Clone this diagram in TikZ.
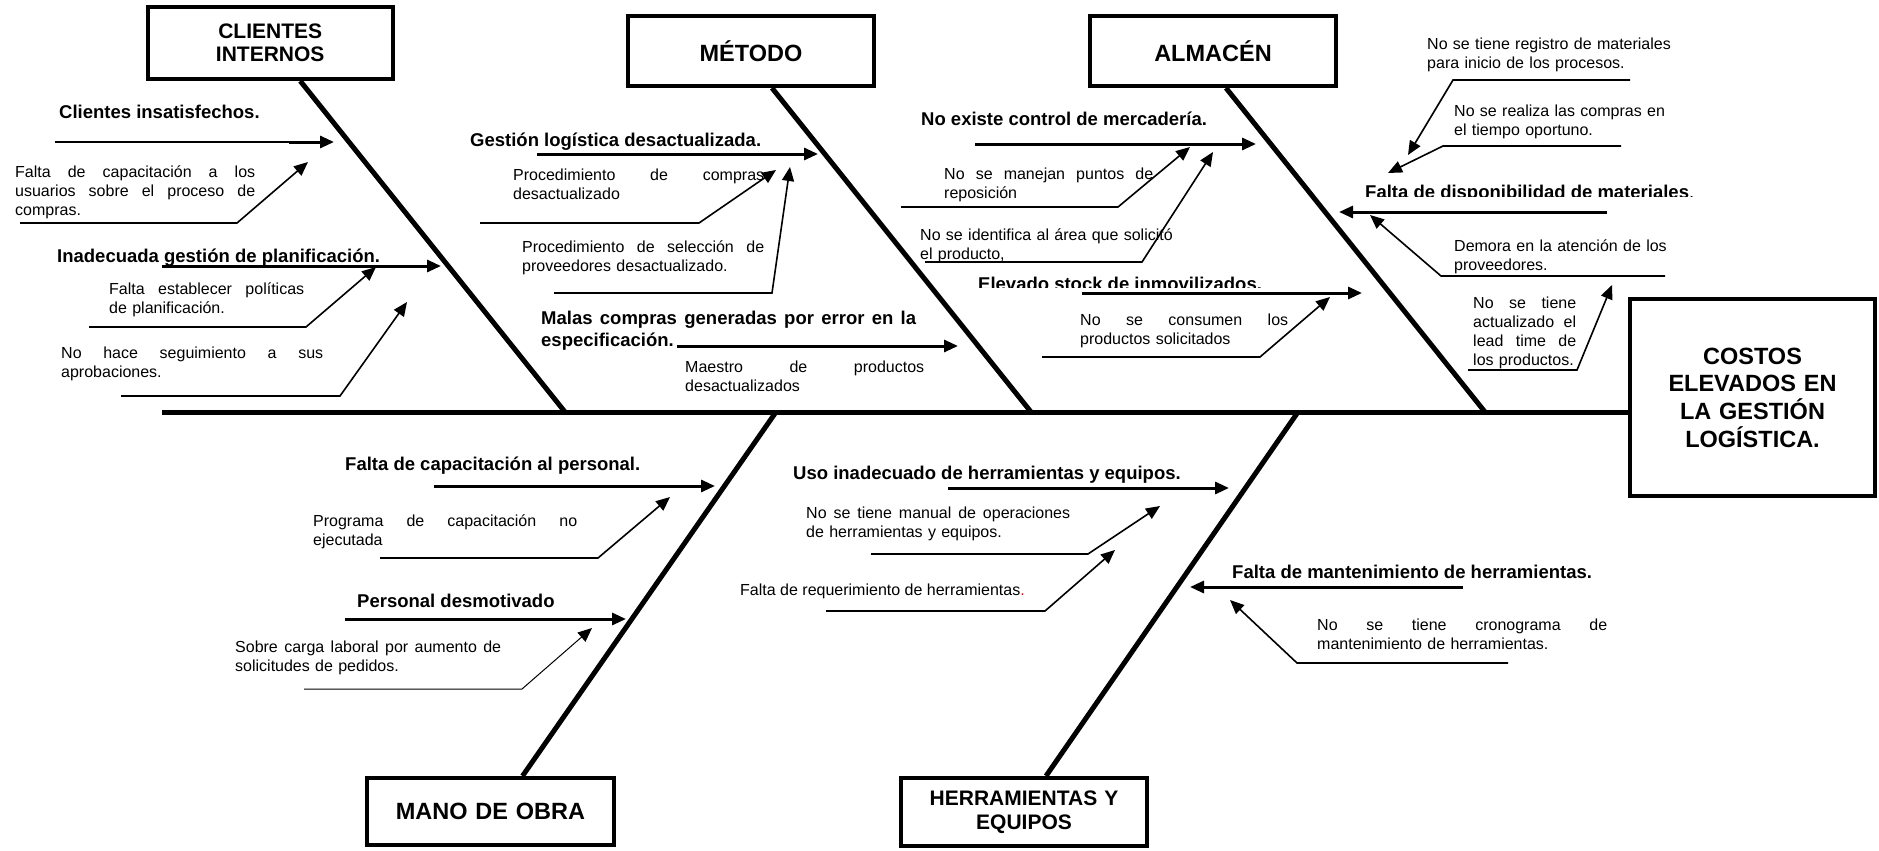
\documentclass[tikz,border=0pt]{standalone}
\usepackage{fontspec}
\setmainfont{Liberation Sans}
\usetikzlibrary{arrows.meta}
% one justified line of a note, spread to the full text width
% (the font's own interword glue is restored so that it can stretch)
\newcommand\jl[1]{\makebox[\linewidth][s]{\spaceskip=0pt\xspaceskip=0pt #1}\\}
\begin{document}
\begin{tikzpicture}[x=1pt,y=-1pt,
  bone/.style={line width=5pt},
  catbox/.style={draw, line width=4pt, inner sep=0pt, align=center,
    font=\bfseries\fontsize{23.5}{27.7}\selectfont},
  smallcat/.style={font=\bfseries\fontsize{21}{23.5}\selectfont},
  head/.style={anchor=base west, inner sep=0pt, font=\bfseries\fontsize{18.5}{22}\selectfont},
  note/.style={anchor=base west, inner sep=0pt, font=\fontsize{16}{19}\selectfont,
    text width=#1, align=left},
  tip/.style={-{Triangle[length=14pt,width=12pt]}},
  main/.style={tip, line width=3pt},
  sub/.style={tip, line width=1.6pt},
  fine/.style={tip, line width=1pt},
]
\useasboundingbox (0,0) rectangle (1879,851);

% ---------- category boxes and effect ----------
\node[catbox, smallcat, minimum width=245.5, minimum height=72, text width=245.5] (cli) at (270.25,43) {CLIENTES\\INTERNOS};
\node[catbox, minimum width=246, minimum height=70, text width=246] (met) at (751,51) {MÉTODO};
\node[catbox, minimum width=246, minimum height=70, text width=246] (alm) at (1213,51) {ALMACÉN};
\node[catbox, minimum width=247, minimum height=67, text width=247] (mano) at (490.5,811.5) {MANO DE OBRA};
\node[catbox, smallcat, minimum width=246, minimum height=68, text width=246] (herr) at (1024,812) {HERRAMIENTAS Y\\EQUIPOS};
\node[catbox, minimum width=245, minimum height=197, text width=245] (eff) at (1752.5,397.5) {COSTOS\\ELEVADOS EN\\LA GESTIÓN\\LOGÍSTICA.};

% ---------- spine and bones ----------
\coordinate (tail) at (162,412);
\coordinate (j1) at (565,412);
\coordinate (j2) at (1031,412);
\coordinate (j3) at (1485,412);
\coordinate (j4) at (776,412);
\coordinate (j5) at (1298,412);
\draw[bone] (tail) -- (tail -| eff.west);
\draw[bone] ([xshift=30pt]cli.south) -- (j1);
\draw[bone] ([xshift=21pt]met.south) -- (j2);
\draw[bone] ([xshift=13pt]alm.south) -- (j3);
\draw[bone] ([xshift=32pt]mano.north) -- (j4);
\draw[bone] ([xshift=22pt]herr.north) -- (j5);

% ---------- CLIENTES INTERNOS ----------
\node[head] (ci1) at (59,118) {Clientes insatisfechos.};
\coordinate (ci1a) at (55,142); \coordinate (ci1b) at (289,142); \coordinate (ci1t) at (334,142);
\draw[line width=1.5pt] (ci1a) -- (ci1b);
\draw[main] (ci1b) -- (ci1t);

\node[note=240] (ci2) at (15,177.5) {\jl{Falta de capacitación a los}\jl{usuarios sobre el proceso de}compras.};
\coordinate (ci2a) at (20,223); \coordinate (ci2b) at (237,223); \coordinate (ci2t) at (308,162);
\draw[sub] (ci2a) -- (ci2b) -- (ci2t);

\node[head] (ci3) at (57,262) {Inadecuada gestión de planificación.};
\coordinate (ci3a) at (162,266); \coordinate (ci3t) at (441,266);
\draw[main] (ci3a) -- (ci3t);

\node[note=195] (ci4) at (109,294.5) {\jl{Falta establecer políticas}de planificación.};
\coordinate (ci4a) at (89,327); \coordinate (ci4b) at (306,327); \coordinate (ci4t) at (376,267);
\draw[sub] (ci4a) -- (ci4b) -- (ci4t);

\node[note=262] (ci5) at (61,358.5) {\jl{No hace seguimiento a sus}aprobaciones.};
\coordinate (ci5a) at (121,396); \coordinate (ci5b) at (340,396); \coordinate (ci5t) at (407,302);
\draw[sub] (ci5a) -- (ci5b) -- (ci5t);

% ---------- MÉTODO ----------
\node[head] (me1) at (470,146) {Gestión logística desactualizada.};
\coordinate (me1a) at (537,154); \coordinate (me1t) at (818,154);
\draw[main] (me1a) -- (me1t);

\node[note=251] (me2) at (513,180.5) {\jl{Procedimiento de compras}desactualizado};
\coordinate (me2a) at (480,223); \coordinate (me2b) at (699,223); \coordinate (me2t) at (776,170);
\draw[sub] (me2a) -- (me2b) -- (me2t);

\node[note=242] (me3) at (522,252.5) {\jl{Procedimiento de selección de}proveedores desactualizado.};
\coordinate (me3a) at (554,293); \coordinate (me3b) at (772,293); \coordinate (me3t) at (790,167);
\draw[sub] (me3a) -- (me3b) -- (me3t);

\node[head, text width=375, align=left] (me4) at (541,324) {\jl{Malas compras generadas por error en la}especificación.};
\coordinate (me4a) at (677,346); \coordinate (me4t) at (958,346);
\draw[main] (me4a) -- (me4t);

\node[note=239] (me5) at (685,372.5) {\jl{Maestro de productos}desactualizados};

% ---------- ALMACÉN ----------
\node[head] (al1) at (921,125) {No existe control de mercadería.};
\coordinate (al1a) at (975,144); \coordinate (al1t) at (1256,144);
\draw[main] (al1a) -- (al1t);

\node[note=209] (al2) at (944,179.5) {\jl{No se manejan puntos de}reposición};
\coordinate (al2a) at (901,207); \coordinate (al2b) at (1118,207); \coordinate (al2t) at (1190,147);
\draw[sub] (al2a) -- (al2b) -- (al2t);

\node[note=260] (al3) at (920,240.5) {No se identifica al área que solicitó\\el producto,};
\coordinate (al3a) at (925,262); \coordinate (al3b) at (1142,262); \coordinate (al3t) at (1213,152);
\draw[sub] (al3a) -- (al3b) -- (al3t);

\begin{scope}
  \clip (960,262) rectangle (1400,287.5);
  \node[head] (al4) at (978,290) {Elevado stock de inmovilizados.};
\end{scope}
\coordinate (al4a) at (1082,293); \coordinate (al4t) at (1362,293);
\draw[main] (al4a) -- (al4t);

\node[note=208] (al5) at (1080,325.5) {\jl{No se consumen los}productos solicitados};
\coordinate (al5a) at (1042,357); \coordinate (al5b) at (1260,357); \coordinate (al5t) at (1330,297);
\draw[sub] (al5a) -- (al5b) -- (al5t);

% ---------- materials (pointing left onto the ALMACÉN bone) ----------
\begin{scope}
  \clip (1350,172) rectangle (1720,196.5);
  \node[head] (fd) at (1365,198.5) {Falta de disponibilidad de materiales{\mdseries.}};
\end{scope}
\coordinate (fda) at (1607,212); \coordinate (fdt) at (1339,212);
\draw[main] (fda) -- (fdt);

\node[note=260] (fd1) at (1427,49.5) {No se tiene registro de materiales\\para inicio de los procesos.};
\coordinate (fd1a) at (1630,80); \coordinate (fd1b) at (1453,80); \coordinate (fd1t) at (1408,155);
\draw[sub] (fd1a) -- (fd1b) -- (fd1t);

\node[note=230] (fd2) at (1454,116.5) {No se realiza las compras en\\el tiempo oportuno.};
\coordinate (fd2a) at (1621,146); \coordinate (fd2b) at (1443,146); \coordinate (fd2t) at (1388,173);
\draw[sub] (fd2a) -- (fd2b) -- (fd2t);

\node[note=230] (fd3) at (1454,251.5) {Demora en la atención de los\\proveedores.};
\coordinate (fd3a) at (1665,276); \coordinate (fd3b) at (1441,276); \coordinate (fd3t) at (1370,215);
\draw[sub] (fd3a) -- (fd3b) -- (fd3t);

\node[note=103] (fd4) at (1473,308.5) {\jl{No se tiene}\jl{actualizado el}\jl{lead time de}los productos.};
\coordinate (fd4a) at (1468,370); \coordinate (fd4b) at (1577,370); \coordinate (fd4t) at (1612,285);
\draw[sub] (fd4a) -- (fd4b) -- (fd4t);

% ---------- MANO DE OBRA ----------
\node[head] (mo1) at (345,470) {Falta de capacitación al personal.};
\coordinate (mo1a) at (434,486); \coordinate (mo1t) at (715,486);
\draw[main] (mo1a) -- (mo1t);

\node[note=264] (mo2) at (313,526.5) {\jl{Programa de capacitación no}ejecutada};
\coordinate (mo2a) at (380,558); \coordinate (mo2b) at (598,558); \coordinate (mo2t) at (670,497);
\draw[sub] (mo2a) -- (mo2b) -- (mo2t);

\node[head] (mo3) at (357,607) {Personal desmotivado};
\coordinate (mo3a) at (345,619); \coordinate (mo3t) at (626,619);
\draw[main] (mo3a) -- (mo3t);

\node[note=266] (mo4) at (235,652.5) {\jl{Sobre carga laboral por aumento de}solicitudes de pedidos.};
\coordinate (mo4a) at (304,689); \coordinate (mo4b) at (522,689); \coordinate (mo4t) at (592,628);
\draw[fine] (mo4a) -- (mo4b) -- (mo4t);

% ---------- HERRAMIENTAS Y EQUIPOS ----------
\node[head] (he1) at (793,479) {Uso inadecuado de herramientas y equipos.};
\coordinate (he1a) at (948,488); \coordinate (he1t) at (1229,488);
\draw[main] (he1a) -- (he1t);

\node[note=264] (he2) at (806,518.5) {\jl{No se tiene manual de operaciones}de herramientas y equipos.};
\coordinate (he2a) at (871,554); \coordinate (he2b) at (1088,554); \coordinate (he2t) at (1160,506);
\draw[sub] (he2a) -- (he2b) -- (he2t);

\node[anchor=base west, inner sep=0pt, font=\fontsize{16}{19}\selectfont] (he3) at (740,595.5) {Falta de requerimiento de herramientas{\color{red}.}};
\coordinate (he3a) at (826,611); \coordinate (he3b) at (1045,611); \coordinate (he3t) at (1115,550);
\draw[sub] (he3a) -- (he3b) -- (he3t);

\node[head] (he4) at (1232,578) {Falta de mantenimiento de herramientas.};
\coordinate (he4a) at (1463,587); \coordinate (he4t) at (1190,587);
\draw[main] (he4a) -- (he4t);

\node[note=290] (he5) at (1317,630.5) {\jl{No se tiene cronograma de}mantenimiento de herramientas.};
\coordinate (he5a) at (1508,663); \coordinate (he5b) at (1297,663); \coordinate (he5t) at (1230,600);
\draw[sub] (he5a) -- (he5b) -- (he5t);

\end{tikzpicture}
\end{document}
